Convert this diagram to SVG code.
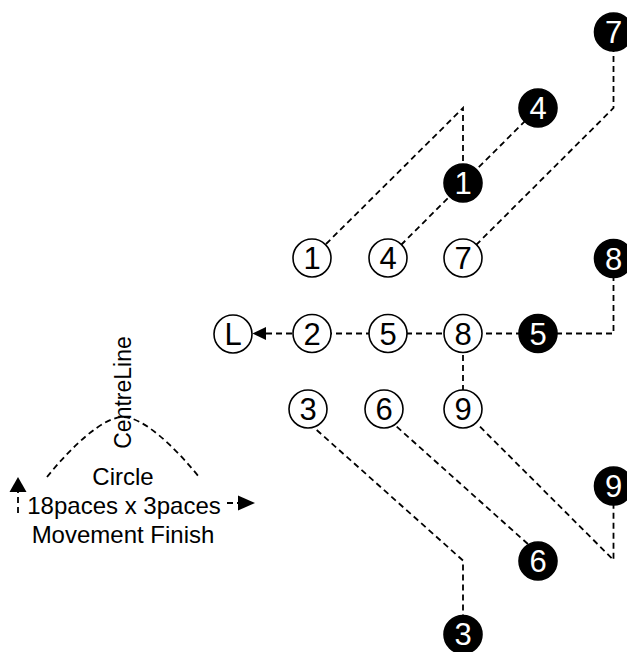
<svg xmlns="http://www.w3.org/2000/svg" width="627" height="652" viewBox="0 0 627 652">
<style>
.bg{fill:#fff}
.dl{fill:none;stroke:#000;stroke-width:1.8;stroke-dasharray:6 4}
.ah{fill:#000}
.wc{fill:#fff;stroke:#000;stroke-width:1.6}
.bc{fill:#000;stroke:#000;stroke-width:1.6}
.wt{font-family:"Liberation Sans",Arial,sans-serif;font-size:31px;fill:#000;text-anchor:middle}
.bt{font-family:"Liberation Sans",Arial,sans-serif;font-size:31px;fill:#fff;text-anchor:middle}
.lg{font-family:"Liberation Sans",Arial,sans-serif;font-size:24px;fill:#000;text-anchor:middle}
</style>
<rect class="bg" x="0" y="0" width="627" height="652"/>
<g id="connectors">
  <polyline class="dl" points="326,244 463,108 463,170"/>
  <line class="dl" x1="401" y1="245" x2="538" y2="108"/>
  <polyline class="dl" points="476,245 613.5,108 613.5,45"/>
  <polyline class="dl" points="266,333.5 613.5,333.5 613.5,270"/>
  <line class="dl" x1="463" y1="345" x2="463" y2="395"/>
  <polygon class="ah" points="252.5,333.5 266,327 266,340"/>
  <polyline class="dl" points="316.7,430 463,560.5 463,625"/>
  <line class="dl" x1="396.7" y1="426.7" x2="534" y2="549.5"/>
  <polyline class="dl" points="480,426.7 613.5,560 613.5,495"/>
  <path class="dl" d="M47,477 C72,446 103,417 123,417 C143,417 174,446 199,477"/>
  <line class="dl" x1="18" y1="513" x2="18" y2="492"/>
  <polygon class="ah" points="18,477 9.5,492 26.5,492"/>
  <line class="dl" x1="227" y1="503" x2="238" y2="503"/>
  <polygon class="ah" points="255,503 238,495.5 238,510.5"/>
</g>
<g id="nodeL"><circle class="wc" cx="233" cy="334" r="19"/><text class="wt" x="233" y="345">L</text></g>
<g id="w1"><circle class="wc" cx="312" cy="258" r="19"/><text class="wt" x="312" y="269">1</text></g>
<g id="w4"><circle class="wc" cx="388" cy="258" r="19"/><text class="wt" x="388" y="269">4</text></g>
<g id="w7"><circle class="wc" cx="463" cy="258" r="19"/><text class="wt" x="463" y="269">7</text></g>
<g id="w2"><circle class="wc" cx="312" cy="333.5" r="19"/><text class="wt" x="312" y="344.5">2</text></g>
<g id="w5"><circle class="wc" cx="388" cy="333.5" r="19"/><text class="wt" x="388" y="344.5">5</text></g>
<g id="w8"><circle class="wc" cx="463" cy="333.5" r="19"/><text class="wt" x="463" y="344.5">8</text></g>
<g id="w3"><circle class="wc" cx="308" cy="409" r="19"/><text class="wt" x="308" y="420">3</text></g>
<g id="w6"><circle class="wc" cx="384" cy="409" r="19"/><text class="wt" x="384" y="420">6</text></g>
<g id="w9"><circle class="wc" cx="463" cy="409" r="19"/><text class="wt" x="463" y="420">9</text></g>
<g id="b7"><circle class="bc" cx="613.5" cy="32" r="19"/><text class="bt" x="613.5" y="43">7</text></g>
<g id="b4"><circle class="bc" cx="538" cy="108" r="19"/><text class="bt" x="538" y="119">4</text></g>
<g id="b1"><circle class="bc" cx="463" cy="183" r="19"/><text class="bt" x="463" y="194">1</text></g>
<g id="b8"><circle class="bc" cx="613.5" cy="258.5" r="19"/><text class="bt" x="613.5" y="269.5">8</text></g>
<g id="b5"><circle class="bc" cx="538" cy="333.5" r="19"/><text class="bt" x="538" y="344.5">5</text></g>
<g id="b9"><circle class="bc" cx="613.5" cy="486" r="19"/><text class="bt" x="613.5" y="497">9</text></g>
<g id="b6"><circle class="bc" cx="538" cy="561" r="19"/><text class="bt" x="538" y="572">6</text></g>
<g id="b3"><circle class="bc" cx="463" cy="634.5" r="19"/><text class="bt" x="463" y="645.3">3</text></g>
<g id="legend">
  <text class="lg" transform="translate(131,392.5) rotate(-90)" style="font-size:23px">CentreLine</text>
  <text class="lg" x="123" y="485">Circle</text>
  <text class="lg" x="124" y="514">18paces x 3paces</text>
  <text class="lg" x="123" y="543">Movement Finish</text>
</g>
</svg>
